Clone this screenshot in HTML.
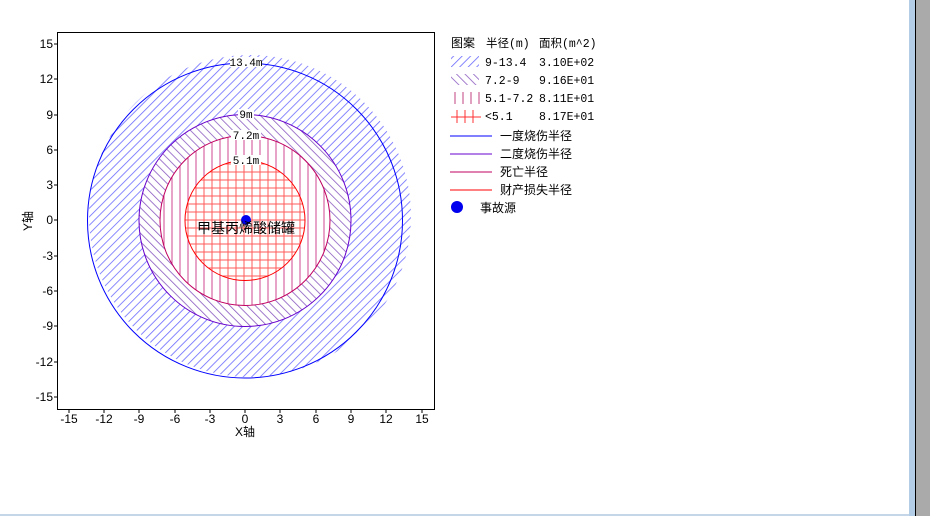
<!DOCTYPE html>
<html><head><meta charset="utf-8"><style>
body{margin:0;width:930px;height:516px;overflow:hidden;background:#fff;font-family:"Liberation Sans","Noto Sans CJK SC",sans-serif;}
</style></head><body>
<svg width="930" height="516" xmlns="http://www.w3.org/2000/svg" style="position:absolute;left:0;top:0">
<defs>
<pattern id="p1" patternUnits="userSpaceOnUse" width="6" height="6" patternTransform="rotate(45)"><line x1="0" y1="0" x2="0" y2="6" stroke="#6a6aff" stroke-width="1.6"/></pattern>
<pattern id="p2" patternUnits="userSpaceOnUse" width="6" height="6" patternTransform="rotate(-45)"><line x1="0" y1="0" x2="0" y2="6" stroke="#8a5ac0" stroke-width="1.6"/></pattern>
<pattern id="p3" patternUnits="userSpaceOnUse" width="8" height="8"><line x1="4" y1="0" x2="4" y2="8" stroke="#d04a90" stroke-width="1"/></pattern>
<pattern id="p4" patternUnits="userSpaceOnUse" width="8" height="8"><line x1="4" y1="0" x2="4" y2="8" stroke="#ff5a5a" stroke-width="1"/><line x1="0" y1="4" x2="8" y2="4" stroke="#ff5a5a" stroke-width="1"/></pattern>
</defs>
<rect x="909" y="0" width="6" height="516" fill="#b4cde6"/>
<rect x="915" y="0" width="1" height="516" fill="#000"/>
<rect x="916" y="0" width="14" height="516" fill="#aaa"/>
<rect x="0" y="514" width="909" height="2" fill="#c4d6e8"/>
<rect x="57.5" y="32.5" width="377" height="377" fill="#fff" stroke="#000"/>
<circle cx="250" cy="216" r="161" fill="url(#p1)"/>
<circle cx="245" cy="220.5" r="106" fill="#fff"/>
<circle cx="245" cy="220.5" r="106" fill="url(#p2)"/>
<circle cx="245" cy="220.5" r="85" fill="#fff"/>
<circle cx="245" cy="220.5" r="85" fill="url(#p3)"/>
<circle cx="245" cy="220.5" r="60" fill="#fff"/>
<circle cx="245" cy="220.5" r="60" fill="url(#p4)"/>
<g fill="none" stroke-width="1">
<circle cx="245" cy="220.5" r="157.5" stroke="#0000ff"/>
<circle cx="245" cy="220.5" r="106" stroke="#6600cc"/>
<circle cx="245" cy="220.5" r="85" stroke="#c00060"/>
<circle cx="245" cy="220.5" r="60" stroke="#ff0000"/>
</g>
<g font-family="Liberation Mono,monospace" font-size="11" text-anchor="middle">
<rect x="230" y="57" width="32" height="10" fill="#fff"/><text x="246" y="66">13.4m</text>
<rect x="238" y="109" width="16" height="10" fill="#fff"/><text x="246" y="118">9m</text>
<rect x="231" y="130" width="30" height="10" fill="#fff"/><text x="246" y="139">7.2m</text>
<rect x="231" y="155" width="30" height="10" fill="#fff"/><text x="246" y="164">5.1m</text>
</g>
<circle cx="246" cy="220" r="5" fill="#0000ee"/>
<text x="246" y="233" font-size="14" text-anchor="middle" fill="#000">甲基丙烯酸储罐</text>
<g stroke="#000">
<line x1="69" y1="410" x2="69" y2="413"/><line x1="104" y1="410" x2="104" y2="413"/><line x1="139" y1="410" x2="139" y2="413"/><line x1="175" y1="410" x2="175" y2="413"/><line x1="210" y1="410" x2="210" y2="413"/><line x1="245" y1="410" x2="245" y2="413"/><line x1="280" y1="410" x2="280" y2="413"/><line x1="316" y1="410" x2="316" y2="413"/><line x1="351" y1="410" x2="351" y2="413"/><line x1="386" y1="410" x2="386" y2="413"/><line x1="422" y1="410" x2="422" y2="413"/>
<line x1="54" y1="44" x2="57" y2="44"/><line x1="54" y1="79" x2="57" y2="79"/><line x1="54" y1="115" x2="57" y2="115"/><line x1="54" y1="150" x2="57" y2="150"/><line x1="54" y1="185" x2="57" y2="185"/><line x1="54" y1="220" x2="57" y2="220"/><line x1="54" y1="256" x2="57" y2="256"/><line x1="54" y1="291" x2="57" y2="291"/><line x1="54" y1="326" x2="57" y2="326"/><line x1="54" y1="362" x2="57" y2="362"/><line x1="54" y1="397" x2="57" y2="397"/>
</g>
<g font-size="12" text-anchor="middle" fill="#000">
<text x="69" y="423">-15</text><text x="104" y="423">-12</text><text x="139" y="423">-9</text><text x="175" y="423">-6</text><text x="210" y="423">-3</text><text x="245" y="423">0</text><text x="280" y="423">3</text><text x="316" y="423">6</text><text x="351" y="423">9</text><text x="386" y="423">12</text><text x="422" y="423">15</text>
<text x="245" y="436">X轴</text>
</g>
<g font-size="12" text-anchor="end" fill="#000">
<text x="53" y="48">15</text><text x="53" y="83">12</text><text x="53" y="119">9</text><text x="53" y="154">6</text><text x="53" y="189">3</text><text x="53" y="224">0</text><text x="53" y="260">-3</text><text x="53" y="295">-6</text><text x="53" y="330">-9</text><text x="53" y="366">-12</text><text x="53" y="401">-15</text>
</g>
<text x="0" y="0" font-size="12" transform="translate(32,221) rotate(-90)" text-anchor="middle">Y轴</text>
<g font-size="12" fill="#000">
<text x="451" y="47">图案</text><text x="486" y="47" font-family="Liberation Mono,Noto Sans CJK SC,monospace" font-size="11.5">半径(m)</text><text x="539" y="47" font-family="Liberation Mono,Noto Sans CJK SC,monospace" font-size="11.5">面积(m^2)</text>
<g font-family="Liberation Mono,monospace" font-size="11.5">
<text x="485" y="66">9-13.4</text><text x="539" y="66">3.10E+02</text>
<text x="485" y="84">7.2-9</text><text x="539" y="84">9.16E+01</text>
<text x="485" y="102">5.1-7.2</text><text x="539" y="102">8.11E+01</text>
<text x="485" y="120">&lt;5.1</text><text x="539" y="120">8.17E+01</text>
</g>
<rect x="451" y="56" width="28" height="11" fill="url(#p1)"/>
<rect x="451" y="74" width="28" height="11" fill="url(#p2)"/>
<g stroke="#c04080"><line x1="455" y1="92" x2="455" y2="104"/><line x1="463" y1="92" x2="463" y2="104"/><line x1="471" y1="92" x2="471" y2="104"/><line x1="479" y1="92" x2="479" y2="104"/></g>
<g stroke="#ff3030"><line x1="451" y1="117" x2="481" y2="117"/><line x1="457" y1="110" x2="457" y2="123"/><line x1="465" y1="110" x2="465" y2="123"/><line x1="473" y1="110" x2="473" y2="123"/></g>
<line x1="450" y1="136" x2="492" y2="136" stroke="#0000ff"/><text x="500" y="140">一度烧伤半径</text>
<line x1="450" y1="154" x2="492" y2="154" stroke="#6600cc"/><text x="500" y="158">二度烧伤半径</text>
<line x1="450" y1="172" x2="492" y2="172" stroke="#c00060"/><text x="500" y="176">死亡半径</text>
<line x1="450" y1="190" x2="492" y2="190" stroke="#ff0000"/><text x="500" y="194">财产损失半径</text>
<circle cx="457" cy="207" r="6" fill="#0000ee"/><text x="480" y="212">事故源</text>
</g>
</svg>
</body></html>
